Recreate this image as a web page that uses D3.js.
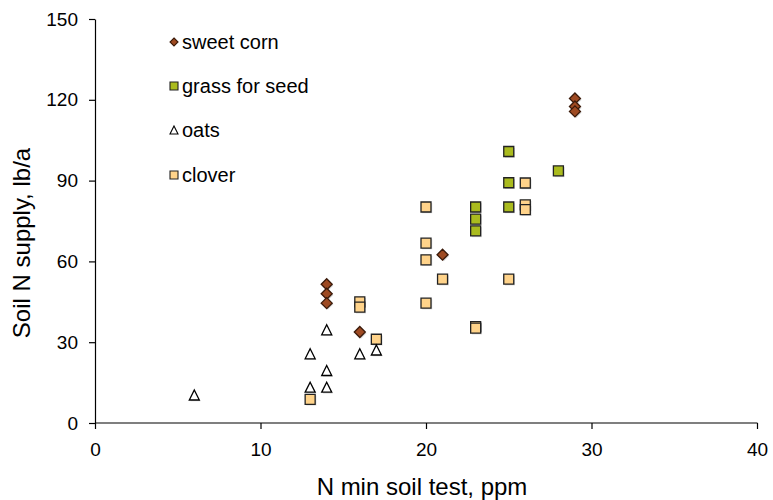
<!DOCTYPE html>
<html>
<head>
<meta charset="utf-8">
<script src="https://cdn.jsdelivr.net/npm/d3@7"></script>
<style>
  body { margin: 0; background: #fff; }
  text { font-family: "Liberation Sans", Arial, sans-serif; fill: #000; }
</style>
</head>
<body>
<svg id="chart" width="773" height="500"></svg>
<script>
// series data - [N min soil test ppm, soil N supply lb/a]
var sweetCorn = [[14, 51.5], [14, 48], [14, 44.5], [16, 33.8], [21, 62.5], [29, 120.5], [29, 117.5], [29, 115.7]];
var grassForSeed = [[25, 100.8], [28, 93.6], [25, 89.2], [23, 80.2], [25, 80.2], [23, 75.7], [23, 71.3]];
var oats = [[6, 10.4], [13, 25.7], [13, 13.3], [14, 34.6], [14, 19.5], [14, 13.3], [16, 25.7], [17, 27.1]];
var clover = [[20, 80.2], [20, 66.8], [20, 60.6], [21, 53.4], [25, 53.4], [20, 44.5], [23, 35.8], [23, 35.2],
              [26, 89.1], [26, 81], [26, 79.2], [16, 45], [16, 43], [17, 31.1], [13, 8.8]];

var xTicks = [0, 10, 20, 30, 40];
var yTicks = [0, 30, 60, 90, 120, 150];
var legendLabels = ["sweet corn", "grass for seed", "oats", "clover"];

var svg = d3.select("#chart");
var margin = { left: 95, top: 19, right: 16, bottom: 77 };
var width = 773 - margin.left - margin.right;
var height = 500 - margin.top - margin.bottom;

var x = d3.scaleLinear().domain([0, 40]).range([0, width]);
var y = d3.scaleLinear().domain([0, 150]).range([height, 0]);

var g = svg.append("g")
  .attr("transform", "translate(" + margin.left + "," + margin.top + ")");

// axes
var xAxis = g.append("g")
  .attr("transform", "translate(0," + height + ")")
  .call(d3.axisBottom(x).tickValues(xTicks).tickSize(6).tickPadding(14));
var yAxis = g.append("g")
  .call(d3.axisLeft(y).tickValues(yTicks).tickSize(6).tickPadding(11));

[xAxis, yAxis].forEach(function (a) {
  a.select(".domain").attr("stroke", "#000").attr("stroke-width", 1.2);
  a.selectAll(".tick line").attr("stroke", "#000").attr("stroke-width", 1.2);
  a.selectAll(".tick text").style("font-size", "19px").attr("fill", "#000");
});
// no outer ticks on the domain lines
xAxis.select(".domain").attr("d", "M0.5,0H" + (width + 0.5));
yAxis.select(".domain").attr("d", "M0.5," + height + "V0.5");

svg.append("text")
  .attr("x", margin.left + width / 2 - 4)
  .attr("y", 495)
  .attr("text-anchor", "middle")
  .style("font-size", "24px")
  .text("N min soil test, ppm");

svg.append("text")
  .attr("transform", "translate(30," + (margin.top + height / 2 + 22) + ") rotate(-90)")
  .attr("text-anchor", "middle")
  .style("font-size", "24px")
  .text("Soil N supply, lb/a");

// marker shapes
function squarePath(s) { return "M" + (-s / 2) + "," + (-s / 2) + "h" + s + "v" + s + "h" + (-s) + "Z"; }
function diamondPath(s) { return "M0," + (-s / 2) + "L" + (s / 2) + ",0L0," + (s / 2) + "L" + (-s / 2) + ",0Z"; }
function trianglePath(s) { return "M0," + (-s / 2) + "L" + (s / 2) + "," + (s / 2) + "L" + (-s / 2) + "," + (s / 2) + "Z"; }

var seriesList = [
  { data: sweetCorn, path: diamondPath, size: 11, fill: "#9E4A22", stroke: "#3a1a0a" },
  { data: grassForSeed, path: squarePath, size: 10, fill: "#AABB1E", stroke: "#222" },
  { data: oats, path: trianglePath, size: 10, fill: "#fff", stroke: "#000" },
  { data: clover, path: squarePath, size: 10, fill: "#FFD38A", stroke: "#222" }
];

// draw in order clover, oats, grass, corn so corn sits on top
[3, 2, 1, 0].forEach(function (i) {
  var s = seriesList[i];
  var grp = g.append("g");
  // soft drop shadow
  grp.selectAll(".shadow")
    .data(s.data)
    .enter()
    .append("path")
    .attr("d", s.path(s.size))
    .attr("transform", function (d) { return "translate(" + (x(d[0]) + 1.2) + "," + (y(d[1]) + 1.2) + ")"; })
    .attr("fill", "#bbb")
    .attr("opacity", 0.6);
  grp.selectAll(".mark")
    .data(s.data)
    .enter()
    .append("path")
    .attr("d", s.path(s.size))
    .attr("transform", function (d) { return "translate(" + x(d[0]) + "," + y(d[1]) + ")"; })
    .attr("fill", s.fill)
    .attr("stroke", s.stroke)
    .attr("stroke-width", 1.3);
});

// legend
var legendY = [42, 86, 130, 175];
var legend = svg.append("g");
legendLabels.forEach(function (lbl, i) {
  var s = seriesList[i];
  legend.append("path")
    .attr("d", s.path(8))
    .attr("transform", "translate(174," + legendY[i] + ")")
    .attr("fill", s.fill)
    .attr("stroke", s.stroke)
    .attr("stroke-width", 1.1);
  legend.append("text")
    .attr("x", 182)
    .attr("y", legendY[i] + 7)
    .style("font-size", "20px")
    .text(lbl);
});
</script>
</body>
</html>
